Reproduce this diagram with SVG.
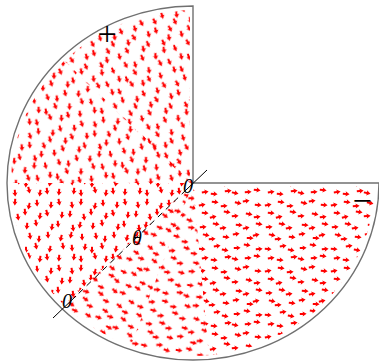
<svg xmlns="http://www.w3.org/2000/svg" width="379" height="361" viewBox="0 0 379 361">
<style>
.lbl{font-family:"Liberation Serif",serif;font-style:italic;font-size:20px;fill:#000}
.sgn{font-family:"Liberation Serif",serif;font-size:34px;fill:#000}
.cut{stroke:#000;stroke-width:1;fill:none}
</style>
<defs>
<path id="ar" d="M-3.2,-1 L0,-1 L-0.5,-2.6 L3.6,0 L-0.5,2.6 L0,1 L-3.2,1 Z" fill="#ff0000"/>
<g id="tile">
<use href="#ar" transform="translate(4,7) rotate(-10)"/>
<use href="#ar" transform="translate(17,4) rotate(6)"/>
<use href="#ar" transform="translate(26,8) rotate(-3)"/>
<use href="#ar" transform="translate(40,5) rotate(12)"/>
<use href="#ar" transform="translate(48,3) rotate(-7)"/>
<use href="#ar" transform="translate(60,7) rotate(4)"/>
<use href="#ar" transform="translate(7,15) rotate(5)"/>
<use href="#ar" transform="translate(15,19) rotate(-12)"/>
<use href="#ar" transform="translate(29,14) rotate(8)"/>
<use href="#ar" transform="translate(37,18) rotate(-4)"/>
<use href="#ar" transform="translate(51,16) rotate(10)"/>
<use href="#ar" transform="translate(59,19) rotate(-6)"/>
<use href="#ar" transform="translate(5,29) rotate(-5)"/>
<use href="#ar" transform="translate(18,26) rotate(9)"/>
<use href="#ar" transform="translate(25,30) rotate(-9)"/>
<use href="#ar" transform="translate(41,27) rotate(3)"/>
<use href="#ar" transform="translate(48,30) rotate(-11)"/>
<use href="#ar" transform="translate(61,26) rotate(7)"/>
<use href="#ar" transform="translate(8,37) rotate(11)"/>
<use href="#ar" transform="translate(14,41) rotate(-3)"/>
<use href="#ar" transform="translate(28,39) rotate(6)"/>
<use href="#ar" transform="translate(38,36) rotate(-8)"/>
<use href="#ar" transform="translate(52,40) rotate(2)"/>
<use href="#ar" transform="translate(58,37) rotate(-12)"/>
<use href="#ar" transform="translate(4,51) rotate(3)"/>
<use href="#ar" transform="translate(19,48) rotate(-7)"/>
<use href="#ar" transform="translate(27,52) rotate(10)"/>
<use href="#ar" transform="translate(39,50) rotate(-2)"/>
<use href="#ar" transform="translate(49,47) rotate(8)"/>
<use href="#ar" transform="translate(61,51) rotate(-4)"/>
<use href="#ar" transform="translate(7,60) rotate(-8)"/>
<use href="#ar" transform="translate(16,62) rotate(4)"/>
<use href="#ar" transform="translate(30,59) rotate(-6)"/>
<use href="#ar" transform="translate(37,61) rotate(11)"/>
<use href="#ar" transform="translate(50,60) rotate(-3)"/>
<use href="#ar" transform="translate(59,58) rotate(6)"/>
</g>
<pattern id="pA" width="66" height="66" patternUnits="userSpaceOnUse" patternTransform="rotate(70)"><use href="#tile"/></pattern>
<pattern id="pB" width="66" height="66" patternUnits="userSpaceOnUse" patternTransform="rotate(80)"><use href="#tile"/></pattern>
<pattern id="pC" width="66" height="66" patternUnits="userSpaceOnUse" patternTransform="rotate(90)"><use href="#tile"/></pattern>
<pattern id="pD" width="66" height="66" patternUnits="userSpaceOnUse" patternTransform="rotate(28)"><use href="#tile"/></pattern>
<pattern id="pE" width="66" height="66" patternUnits="userSpaceOnUse" patternTransform="rotate(10)"><use href="#tile"/></pattern>
<pattern id="pF" width="66" height="66" patternUnits="userSpaceOnUse"><use href="#tile"/></pattern>
</defs>
<g id="field">
<path d="M190,183 L190,10 A182,173 0 0 0 64.3,60.7 Z" fill="url(#pA)"/>
<path d="M193,183 L64.3,60.7 A182,173 0 0 0 11,183 Z" fill="url(#pB)"/>
<path d="M193,183 L11,183 A182,173 0 0 0 64.3,305.3 Z" fill="url(#pC)"/>
<path d="M193,183 L64.3,305.3 A182,173 0 0 0 130.8,345.6 Z" fill="url(#pD)"/>
<path d="M193,183 L130.8,345.6 A182,173 0 0 0 208.9,355.3 Z" fill="url(#pE)"/>
<path d="M193,186 L208.9,355.3 A182,173 0 0 0 375,186 Z" fill="url(#pF)"/>
</g>
<g id="boundary">
<path d="M193,183 L193,6 A186,177 0 1 0 379,183 Z" fill="none" stroke="#707070" stroke-width="1.4"/>
</g>
<g id="connectors">
<line class="cut" x1="207" y1="170" x2="186" y2="190"/>
<line class="cut" x1="186" y1="190" x2="76" y2="296" stroke-dasharray="6,5"/>
<line class="cut" x1="76" y1="296" x2="53" y2="318"/>
</g>
<g id="labels">
<text class="lbl" x="188" y="193" text-anchor="middle">0</text>
<text class="lbl" x="137" y="245" text-anchor="middle">θ</text>
<text class="lbl" x="67" y="308" text-anchor="middle">0</text>
<text class="sgn" x="107" y="45" text-anchor="middle">+</text>
<text class="sgn" x="362" y="212" text-anchor="middle">−</text>
</g>
</svg>
